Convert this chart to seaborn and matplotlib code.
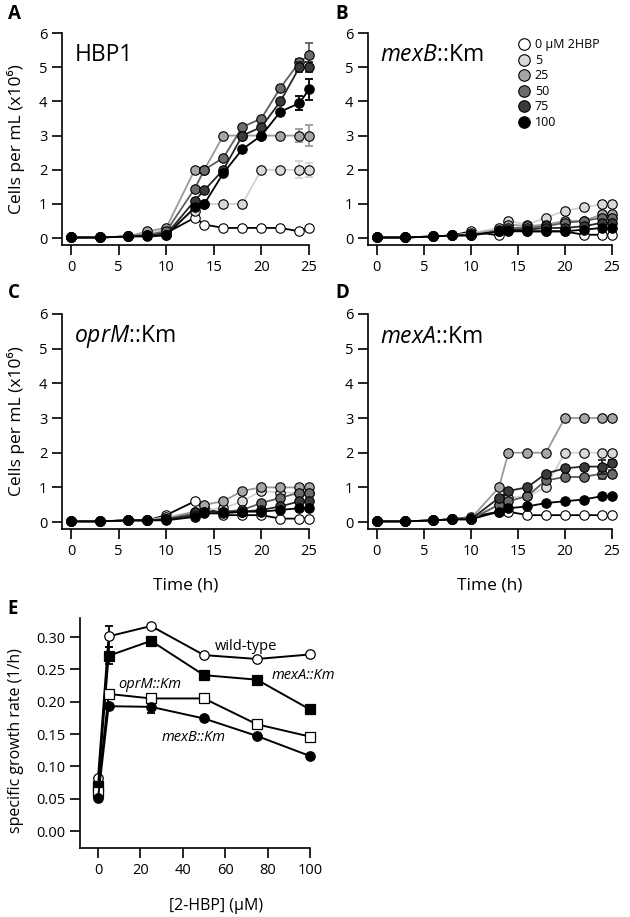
import numpy as np
import pandas as pd
import seaborn as sns
import matplotlib.pyplot as plt
from matplotlib.lines import Line2D

sns.set_style('ticks')
plt.rcParams['font.family'] = ['Open Sans', 'DejaVu Sans']
plt.rcParams['mathtext.fontset'] = 'custom'
plt.rcParams['mathtext.rm'] = 'Open Sans'
plt.rcParams['mathtext.it'] = 'Open Sans:italic'
for key in ['text.color', 'axes.labelcolor', 'xtick.color', 'ytick.color',
            'xtick.labelcolor', 'ytick.labelcolor']:
    plt.rcParams[key] = 'black'

# sampling times (h) and 2HBP concentrations (uM)
time_h = [0, 3, 6, 8, 10, 13, 14, 16, 18, 20, 22, 24, 25]
conc = [0, 5, 25, 50, 75, 100]
conc_labels = ['0 µM 2HBP', '5', '25', '50', '75', '100']

# cells per mL (x10^6), one row per concentration
hbp1 = [[0.02, 0.02, 0.05, 0.10, 0.15, 0.60, 0.40, 0.30, 0.30, 0.30, 0.30, 0.20, 0.30],
        [0.02, 0.02, 0.05, 0.15, 0.25, 0.80, 1.00, 1.00, 1.00, 2.00, 2.00, 2.00, 2.00],
        [0.02, 0.02, 0.05, 0.20, 0.30, 2.00, 2.00, 3.00, 3.00, 3.00, 3.00, 3.00, 3.00],
        [0.02, 0.02, 0.05, 0.10, 0.20, 1.45, 2.00, 2.35, 3.25, 3.50, 4.40, 5.15, 5.35],
        [0.02, 0.02, 0.05, 0.08, 0.10, 1.10, 1.40, 2.00, 3.00, 3.25, 4.00, 5.00, 5.00],
        [0.02, 0.02, 0.05, 0.05, 0.08, 0.90, 1.00, 1.90, 2.60, 3.00, 3.70, 3.95, 4.35]]
mexb = [[0.02, 0.02, 0.05, 0.08, 0.20, 0.08, 0.25, 0.20, 0.20, 0.20, 0.10, 0.10, 0.10],
        [0.02, 0.02, 0.05, 0.08, 0.15, 0.30, 0.50, 0.40, 0.60, 0.80, 0.90, 1.00, 1.00],
        [0.02, 0.02, 0.05, 0.08, 0.12, 0.25, 0.40, 0.35, 0.40, 0.50, 0.50, 0.70, 0.70],
        [0.02, 0.02, 0.05, 0.08, 0.10, 0.20, 0.30, 0.30, 0.35, 0.45, 0.50, 0.60, 0.60],
        [0.02, 0.02, 0.05, 0.08, 0.08, 0.20, 0.25, 0.25, 0.30, 0.30, 0.35, 0.45, 0.45],
        [0.02, 0.02, 0.05, 0.08, 0.08, 0.20, 0.20, 0.20, 0.20, 0.20, 0.25, 0.30, 0.30]]
oprm = [[0.02, 0.02, 0.05, 0.05, 0.20, 0.60, 0.45, 0.20, 0.20, 0.20, 0.10, 0.10, 0.10],
        [0.02, 0.02, 0.05, 0.05, 0.15, 0.30, 0.35, 0.40, 0.60, 0.90, 0.85, 0.85, 0.85],
        [0.02, 0.02, 0.05, 0.05, 0.10, 0.30, 0.50, 0.60, 0.90, 1.00, 1.00, 1.00, 1.00],
        [0.02, 0.02, 0.05, 0.05, 0.08, 0.25, 0.30, 0.30, 0.35, 0.55, 0.70, 0.85, 0.85],
        [0.02, 0.02, 0.05, 0.05, 0.08, 0.20, 0.30, 0.30, 0.30, 0.35, 0.45, 0.60, 0.60],
        [0.02, 0.02, 0.05, 0.05, 0.05, 0.15, 0.25, 0.25, 0.30, 0.30, 0.35, 0.40, 0.40]]
mexa = [[0.02, 0.02, 0.05, 0.08, 0.15, 0.30, 0.30, 0.20, 0.20, 0.20, 0.20, 0.20, 0.20],
        [0.02, 0.02, 0.05, 0.08, 0.12, 0.50, 0.70, 0.75, 1.00, 2.00, 2.00, 2.00, 2.00],
        [0.02, 0.02, 0.05, 0.08, 0.10, 1.00, 2.00, 2.00, 2.00, 3.00, 3.00, 3.00, 3.00],
        [0.02, 0.02, 0.05, 0.08, 0.08, 0.50, 0.60, 0.75, 1.20, 1.30, 1.30, 1.40, 1.40],
        [0.02, 0.02, 0.05, 0.08, 0.08, 0.70, 0.90, 1.00, 1.40, 1.55, 1.60, 1.60, 1.70],
        [0.02, 0.02, 0.05, 0.08, 0.08, 0.30, 0.40, 0.45, 0.55, 0.60, 0.65, 0.75, 0.75]]

# error bars at 24 h and 25 h
hbp1_err = [[0, 0], [0.25, 0.2], [0.2, 0.3], [0.1, 0.35], [0.15, 0.15], [0.2, 0.3]]
mexb_err = [[0, 0], [0.1, 0.1], [0, 0], [0, 0], [0, 0], [0, 0]]
oprm_err = [[0, 0], [0, 0], [0, 0], [0, 0], [0, 0], [0, 0]]
mexa_err = [[0, 0], [0, 0], [0, 0], [0.15, 0.1], [0.2, 0.1], [0, 0]]

# specific growth rates (1/h)
hbp_conc = [0, 5, 25, 50, 75, 100]
rate_wt = [0.082, 0.301, 0.317, 0.272, 0.266, 0.273]
rate_mexa = [0.070, 0.271, 0.294, 0.241, 0.234, 0.188]
rate_oprm = [0.060, 0.212, 0.205, 0.205, 0.165, 0.146]
rate_mexb = [0.051, 0.193, 0.192, 0.174, 0.147, 0.116]
rate_wt_err = [0, 0.016, 0, 0, 0, 0]
rate_mexa_err = [0, 0.013, 0, 0, 0, 0]
rate_oprm_err = [0, 0, 0, 0, 0, 0]
rate_mexb_err = [0, 0, 0.010, 0, 0, 0]

fills = ['#ffffff', '#d9d9d9', '#a6a6a6', '#6c6c6c', '#3a3a3a', '#000000']
lcols = ['#000000', '#d2d2d2', '#9a9a9a', '#5e5e5e', '#262626', '#000000']


def style_axis(ax):
    sns.despine(ax=ax)
    for s in ['left', 'bottom']:
        ax.spines[s].set_linewidth(1.2)
        ax.spines[s].set_color('black')
    ax.tick_params(length=7, width=1.2, labelsize=10.5, pad=3.5, color='black')


def growth_panel(ax, data, err, title, ylabel=False, xlabel=False):
    for i, c in enumerate(conc):
        df = pd.DataFrame({'t': time_h, 'cells': data[i]})
        sns.lineplot(data=df, x='t', y='cells', ax=ax, color=lcols[i], lw=1.3,
                     marker='o', markersize=6.8, markerfacecolor=fills[i],
                     markeredgecolor='black', markeredgewidth=0.8,
                     clip_on=False, zorder=2 + i)
        ax.errorbar(time_h[-2:], data[i][-2:], yerr=err[i], fmt='none',
                    ecolor=lcols[i], elinewidth=1.3, capsize=3, capthick=1.3,
                    clip_on=False, zorder=1.5 + i)
    ax.set_xlim(-0.95, 25)
    ax.set_ylim(-0.2, 6)
    ax.set_xticks([0, 5, 10, 15, 20, 25])
    ax.set_yticks([0, 1, 2, 3, 4, 5, 6])
    ax.set_xlabel('Time (h)' if xlabel else '', fontsize=12.5)
    ax.set_ylabel('Cells per mL (x10⁶)' if ylabel else '', fontsize=12.5)
    ax.xaxis.set_label_coords(0.5, -0.225)
    ax.yaxis.set_label_coords(-0.15, 0.5)
    ax.text(0.05, 0.895, title, transform=ax.transAxes, fontsize=16.5, va='center')
    style_axis(ax)


fig = plt.figure(figsize=(6.3, 9.17), dpi=100)
ax_a = fig.add_axes([0.0984, 0.7328, 0.392, 0.2312])
ax_b = fig.add_axes([0.584, 0.7328, 0.387, 0.2312])
ax_c = fig.add_axes([0.0984, 0.4231, 0.392, 0.2345])
ax_d = fig.add_axes([0.584, 0.4231, 0.387, 0.2345])
ax_e = fig.add_axes([0.127, 0.0752, 0.365, 0.2513])

growth_panel(ax_a, hbp1, hbp1_err, 'HBP1', ylabel=True)
growth_panel(ax_b, mexb, mexb_err, r'$\it{mexB}$::Km')
growth_panel(ax_c, oprm, oprm_err, r'$\it{oprM}$::Km', ylabel=True, xlabel=True)
growth_panel(ax_d, mexa, mexa_err, r'$\it{mexA}$::Km', xlabel=True)

handles = [Line2D([], [], ls='none', marker='o', markersize=8.3, markerfacecolor=f,
                  markeredgecolor='black', markeredgewidth=0.8) for f in fills]
ax_b.legend(handles, conc_labels, loc='upper left', bbox_to_anchor=(0.592, 0.998),
            frameon=False, fontsize=9, handletextpad=0.4, labelspacing=0.2,
            borderaxespad=0, handlelength=1.0)

# panel E: growth rate vs 2-HBP
series_e = [(rate_wt, rate_wt_err, 'o', 'white'),
            (rate_mexa, rate_mexa_err, 's', 'black'),
            (rate_oprm, rate_oprm_err, 's', 'white'),
            (rate_mexb, rate_mexb_err, 'o', 'black')]
for k, (vals, errs, mk, fc) in enumerate(series_e):
    df = pd.DataFrame({'conc': hbp_conc, 'rate': vals})
    ax_e.errorbar(hbp_conc, vals, yerr=errs, fmt='none', ecolor='black',
                  elinewidth=1.3, capsize=3, capthick=1.3, clip_on=False, zorder=2)
    sns.lineplot(data=df, x='conc', y='rate', ax=ax_e, color='black', lw=1.4,
                 marker=mk, markersize=6.8, markerfacecolor=fc,
                 markeredgecolor='black', markeredgewidth=0.9,
                 clip_on=False, zorder=3 + k)
ax_e.set_xlim(-8.5, 100)
ax_e.set_ylim(-0.0263, 0.33)
ax_e.set_xticks([0, 20, 40, 60, 80, 100])
ax_e.set_yticks([0.0, 0.05, 0.10, 0.15, 0.20, 0.25, 0.30])
ax_e.set_yticklabels(['0.00', '0.05', '0.10', '0.15', '0.20', '0.25', '0.30'])
ax_e.set_xlabel('[2-HBP] (µM)', fontsize=11.5)
ax_e.set_ylabel('specific growth rate (1/h)', fontsize=11.5)
ax_e.xaxis.set_label_coords(0.59, -0.215)
ax_e.yaxis.set_label_coords(-0.245, 0.465)
style_axis(ax_e)
ax_e.text(55, 0.285, 'wild-type', fontsize=10.5, va='center')
for name, x, y in [('mexA::Km', 82, 0.241), ('oprM::Km', 9.5, 0.226),
                   ('mexB::Km', 30, 0.144)]:
    ax_e.text(x, y, name, fontsize=10.5, va='center', fontstyle='italic')

for lab, x, y in [('A', 0.012, 0.985), ('B', 0.532, 0.985),
                  ('C', 0.012, 0.681), ('D', 0.532, 0.681), ('E', 0.012, 0.336)]:
    fig.text(x, y, lab, fontsize=13.5, fontweight='bold', va='center', ha='left')

fig.savefig('out.png', dpi=100)
